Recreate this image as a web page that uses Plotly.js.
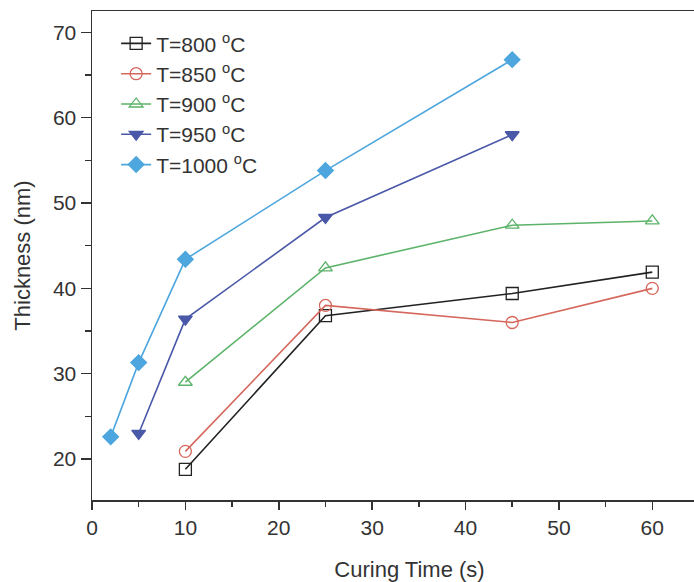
<!DOCTYPE html>
<html>
<head>
<meta charset="utf-8">
<script src="https://cdn.plot.ly/plotly-3.0.1.min.js"></script>
<style>html,body{margin:0;padding:0;overflow:hidden;background:#fff}#chart{width:727px;height:582px}</style>
</head>
<body>
<div id="chart"></div>
<script>
const seriesNames = ["T=800 <sup>o</sup>C", "T=850 <sup>o</sup>C", "T=900 <sup>o</sup>C", "T=950 <sup>o</sup>C", "T=1000 <sup>o</sup>C"];
const x800 = [10, 25, 45, 60];
const y800 = [18.8, 36.8, 39.4, 41.9];
const x850 = [10, 25, 45, 60];
const y850 = [20.9, 38.0, 36.0, 40.0];
const x900 = [10, 25, 45, 60];
const y900 = [29.0, 42.4, 47.4, 47.9];
const x950 = [5, 10, 25, 45];
const y950 = [23.0, 36.4, 48.3, 58.0];
const x1000 = [2, 5, 10, 25, 45];
const y1000 = [22.6, 31.3, 43.4, 53.8, 66.8];

const colors = ["#222222", "#d5675c", "#5cb36a", "#4a58a8", "#4da6de"];
const symbols = ["square-open", "circle-open", "triangle-up-open", "triangle-down", "diamond"];
const xs = [x800, x850, x900, x950, x1000];
const ys = [y800, y850, y900, y950, y1000];

const traces = seriesNames.map((n, i) => ({
  type: "scatter", mode: "lines+markers", name: n,
  x: xs[i], y: ys[i],
  line: {color: colors[i], width: 1.6},
  marker: {symbol: symbols[i], size: 12, color: colors[i], line: {color: colors[i], width: 1.3}}
}));

const layout = {
  width: 727, height: 582,
  margin: {l: 92, r: 0, t: 11, b: 82},
  paper_bgcolor: "#fff", plot_bgcolor: "#fff",
  font: {family: "Liberation Sans, Arial, sans-serif", color: "#333", size: 21},
  showlegend: true,
  legend: {x: 0.038, y: 0.975, xanchor: "left", yanchor: "top", bgcolor: "rgba(0,0,0,0)",
           font: {size: 21, color: "#333"}, tracegroupgap: 0},
  xaxis: {
    range: [0, 68], showgrid: false, zeroline: false,
    showline: true, linecolor: "#333", linewidth: 1.5, mirror: true,
    ticks: "outside", ticklen: 8, tickwidth: 1.5, tickcolor: "#333",
    tickvals: [0, 10, 20, 30, 40, 50, 60, 70],
    minor: {ticks: "outside", ticklen: 5, tickwidth: 1.5, tickcolor: "#333", dtick: 5, showgrid: false},
    tickfont: {size: 21},
    title: {text: "Curing Time (s)", font: {size: 22}, standoff: 24}
  },
  yaxis: {
    range: [15.2, 72.5], showgrid: false, zeroline: false,
    showline: true, linecolor: "#333", linewidth: 1.5,
    ticks: "outside", ticklen: 10, tickwidth: 1.5, tickcolor: "#333",
    tickvals: [20, 30, 40, 50, 60, 70],
    minor: {ticks: "outside", ticklen: 6, tickwidth: 1.5, tickcolor: "#333", dtick: 5, showgrid: false},
    tickfont: {size: 21},
    title: {text: "Thickness (nm)", font: {size: 22}, standoff: 16}
  }
};

Plotly.newPlot("chart", traces, layout, {displayModeBar: false, staticPlot: true});
</script>
</body>
</html>
